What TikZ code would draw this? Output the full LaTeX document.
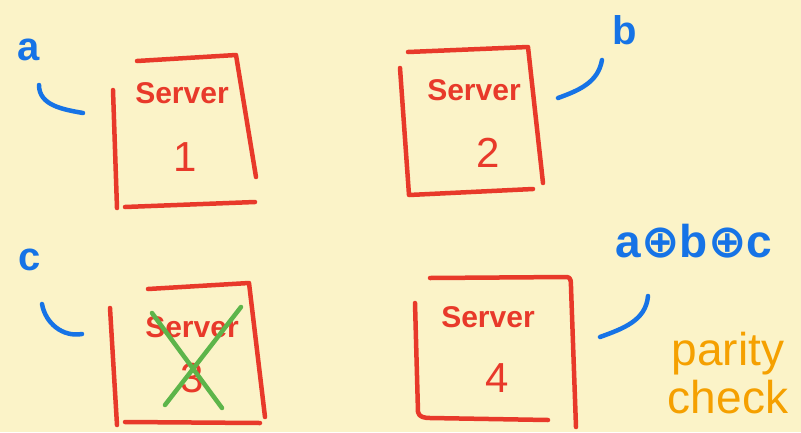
\documentclass[tikz,border=0pt]{standalone}
\usepackage{fontspec}
\setmainfont{Liberation Sans}
\newfontfamily\symfont{DejaVu Sans}
\usetikzlibrary{positioning}

\definecolor{paper}{HTML}{FBF3C8}
\definecolor{srvred}{HTML}{E8392A}
\definecolor{inkblue}{HTML}{1673E6}
\definecolor{failgreen}{HTML}{5DB54A}
\definecolor{noteorange}{HTML}{F5A000}

\begin{document}
\begin{tikzpicture}[
        x=1pt, y=-1pt,
        edge/.style={draw=srvred, line width=4.5pt, line cap=round, line join=round},
        label/.style={text=srvred, font=\bfseries\fontsize{30}{30}\selectfont, inner sep=0pt},
        num/.style={text=srvred, font=\fontsize{42}{42}\selectfont, inner sep=0pt},
        tag/.style={text=inkblue, font=\bfseries\fontsize{40}{40}\selectfont, inner sep=0pt},
        tick/.style={draw=inkblue, line width=4.5pt, line cap=round},
        note/.style={text=noteorange, font=\fontsize{46}{46}\selectfont, inner sep=0pt},
        cross/.style={draw=failgreen, line width=4.5pt, line cap=round}
    ]

    % Background
    \fill[paper] (0,0) rectangle (801,432);
    \useasboundingbox (0,0) rectangle (801,432);

    % Server 1
    \draw[edge] (137,61) -- (236,55) -- (256,177);
    \draw[edge] (125,207) -- (255,202);
    \draw[edge] (113,90) -- (117,208);
    \node[label] (srvA) at (182,93) {Server};
    \node[num] (numA) at (185,157) {1};

    % Server 2
    \draw[edge] (408,52) -- (528,47) -- (543,183);
    \draw[edge] (400,68) -- (409,195) -- (533,189);
    \node[label] (srvB) at (474,90) {Server};
    \node[num] (numB) at (488,153) {2};

    % Server 3 (failed)
    \draw[edge] (148,289) -- (249,283) -- (265,417);
    \draw[edge] (110,308) -- (117,425);
    \draw[edge] (125,422) -- (260,423);
    \node[label] (srvC) at (192,327) {Server};
    \node[num] (numC) at (192,378) {3};
    \draw[cross] (152,313) -- (222,408);
    \draw[cross] (241,307) -- (165,405);

    % Server 4
    \draw[edge] (430,278) -- (567,277) to[out=0,in=90] (571,287) -- (576,427);
    \draw[edge] (415,303) -- (418,412) to[out=-80,in=180] (430,418) -- (548,420);
    \node[label] (srvD) at (488,317) {Server};
    \node[num] (numD) at (497,378) {4};

    % Labels
    \node[tag] (a) at (29,50) {a};
    \node[tag] (b) at (625,30) {b};
    \node[tag] (c) at (30,260) {c};
    \node[tag, font=\bfseries\fontsize{46}{46}\selectfont] (parity) at (694,241)
        {a{\symfont\bfseries ⊕}b{\symfont\bfseries ⊕}c};
    \node[note] (par) at (728,354) {parity};
    \node[note] (chk) [below=4pt of par.south, anchor=north] {check};

    % Ticks
    \coordinate (tA) at (39,85);
    \coordinate (tB) at (602,60);
    \coordinate (tC) at (42,304);
    \coordinate (tD) at (648,296);
    \draw[tick] (tA) to[out=-90,in=170] (83,113);
    \draw[tick] (tB) to[out=-100,in=20] (558,98);
    \draw[tick] (tC) to[out=-80,in=190] (82,334);
    \draw[tick] (tD) to[out=-95,in=20] (600,337);

\end{tikzpicture}
\end{document}
